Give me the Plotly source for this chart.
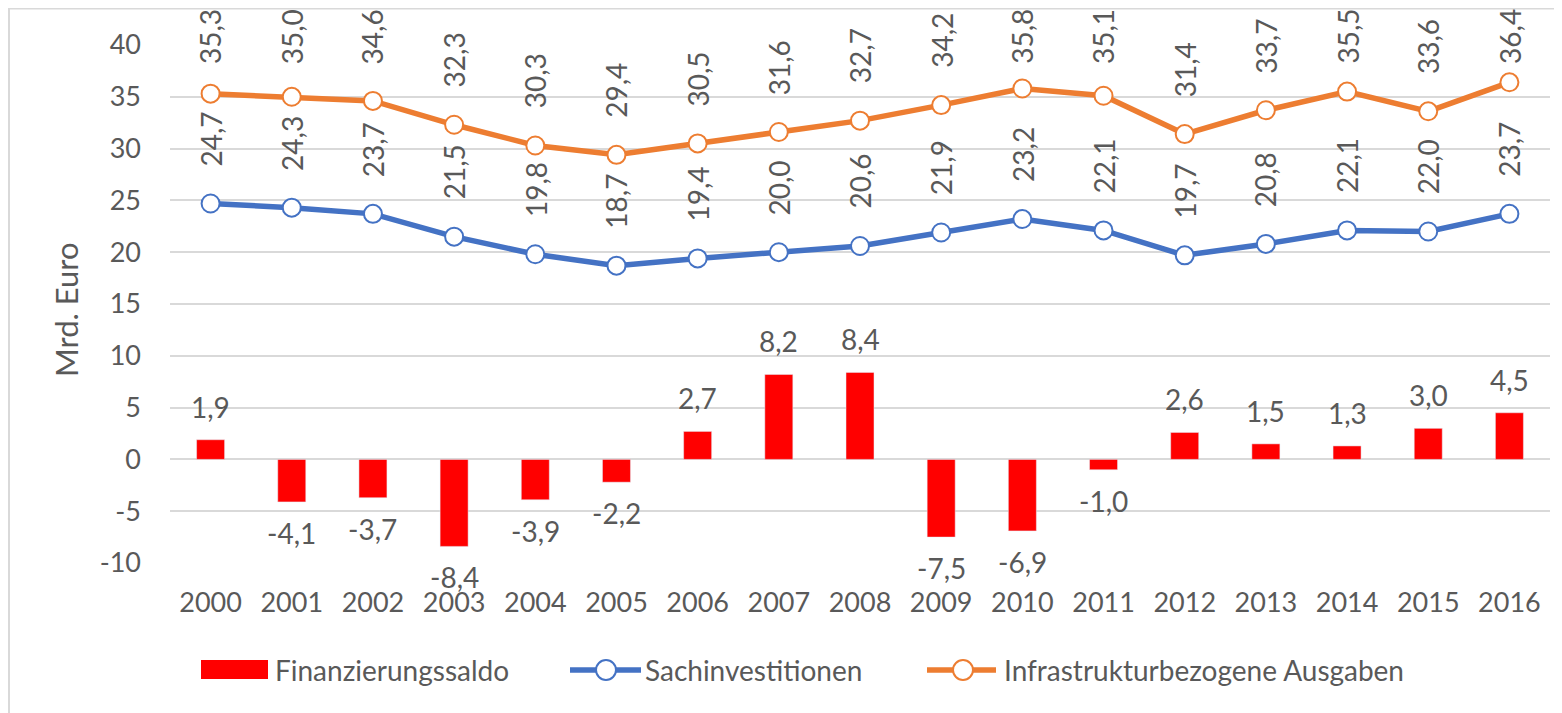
import plotly.graph_objects as go

years = list(range(2000, 2017))
saldo = [1.9, -4.1, -3.7, -8.4, -3.9, -2.2, 2.7, 8.2, 8.4, -7.5, -6.9, -1.0, 2.6, 1.5, 1.3, 3.0, 4.5]
sachinv = [24.7, 24.3, 23.7, 21.5, 19.8, 18.7, 19.4, 20.0, 20.6, 21.9, 23.2, 22.1, 19.7, 20.8, 22.1, 22.0, 23.7]
infra = [35.3, 35.0, 34.6, 32.3, 30.3, 29.4, 30.5, 31.6, 32.7, 34.2, 35.8, 35.1, 31.4, 33.7, 35.5, 33.6, 36.4]
y_ticks = [-10, -5, 0, 5, 10, 15, 20, 25, 30, 35, 40]
y_range = [-10, 40]
names = ["Finanzierungssaldo", "Sachinvestitionen", "Infrastrukturbezogene Ausgaben"]

RED = "#FF0000"
BLUE = "#4472C4"
ORANGE = "#ED7D31"
TXT = "#595959"
FONT = "Lato"
FS = 27
FS_LBL = 28
FS_LEG = 28

OFF = 8  # page body margin
W, H = 1562 - OFF, 713 - OFF
# plot area in page pixels
L, R, T, B = 170, 1550, 45, 563
PX_PER_UNIT = (B - T) / (y_range[1] - y_range[0])

LBL_GAP = 35      # shift of rotated labels above the marker
LBL_LEN = 50      # approx. length of rotated label text (px)
LBL_TOP = 16      # labels may not reach higher than this page y


def px(x):
    return (x - L) / (R - L)


def py(y):
    return (B - y) / (B - T)


def fmt(v):
    return f"{v:.1f}".replace(".", ",")


def rot_shift(v):
    # keep the rotated label inside the chart area (like Excel does)
    above_top = (y_range[1] - v) * PX_PER_UNIT + (T - LBL_TOP)
    return min(LBL_GAP, above_top - LBL_LEN)


fig = go.Figure()
fig.add_trace(go.Bar(x=years, y=saldo, name=names[0], marker_color=RED,
                     width=0.345, showlegend=False))
for vals, col, nm in [(sachinv, BLUE, names[1]), (infra, ORANGE, names[2])]:
    fig.add_trace(go.Scatter(x=years, y=vals, name=nm, mode="lines+markers",
                             line=dict(color=col, width=5.5),
                             marker=dict(symbol="circle", size=18, color="white",
                                         line=dict(color=col, width=2)),
                             showlegend=False))

ann = []
for yr, v in zip(years, saldo):
    ann.append(dict(x=yr, y=v, text=fmt(v), showarrow=False,
                    yanchor="bottom" if v >= 0 else "top",
                    yshift=14 if v >= 0 else -12,
                    font=dict(family=FONT, size=FS_LBL, color=TXT)))
for vals in (sachinv, infra):
    for yr, v in zip(years, vals):
        ann.append(dict(x=yr, y=v, text=fmt(v), showarrow=False, textangle=-90,
                        xanchor="center", yanchor="bottom", yshift=rot_shift(v),
                        font=dict(family=FONT, size=FS_LBL, color=TXT)))

# legend (custom)
LY = 670
for xl, nm in [(273, names[0]), (643, names[1]), (1002, names[2])]:
    ann.append(dict(x=px(xl), y=py(LY), xref="paper", yref="paper", text=nm,
                    xanchor="left", yanchor="middle", showarrow=False,
                    font=dict(family=FONT, size=FS_LEG, color=TXT)))
ann.append(dict(x=px(66), y=py(310), xref="paper", yref="paper", text="Mrd. Euro",
                textangle=-90, showarrow=False, xanchor="center", yanchor="middle",
                font=dict(family=FONT, size=31, color=TXT)))

shapes = [
    dict(type="rect", xref="paper", yref="paper", x0=px(9), x1=px(1600),
         y0=py(8.5), y1=py(760), line=dict(color="#D9D9D9", width=2), fillcolor="rgba(0,0,0,0)",
         layer="below"),
    dict(type="rect", xref="paper", yref="paper", x0=px(201), x1=px(268),
         y0=py(660), y1=py(679), line=dict(width=0), fillcolor=RED),
]
for (x0, x1, xc, col) in [(570, 641, 606, BLUE), (927, 996, 963, ORANGE)]:
    shapes.append(dict(type="line", xref="paper", yref="paper", x0=px(x0), x1=px(x1),
                       y0=py(LY), y1=py(LY), line=dict(color=col, width=5.5)))
    shapes.append(dict(type="circle", xref="paper", yref="paper", x0=px(xc - 10), x1=px(xc + 10),
                       y0=py(LY - 10), y1=py(LY + 10), line=dict(color=col, width=2),
                       fillcolor="white"))

fig.update_layout(
    width=W, height=H,
    margin=dict(l=L - OFF, r=(W + OFF) - R, t=T - OFF, b=(H + OFF) - B, pad=0),
    paper_bgcolor="white", plot_bgcolor="white",
    font=dict(family=FONT, size=FS, color=TXT),
    annotations=ann, shapes=shapes,
    xaxis=dict(range=[1999.5, 2016.5], tickvals=years, ticktext=[str(y) for y in years],
               showgrid=False, showline=False, zeroline=False,
               ticks="", ticklabelstandoff=21, tickfont=dict(family=FONT, size=FS, color=TXT)),
    yaxis=dict(range=y_range, tickvals=y_ticks, ticktext=[str(t) for t in y_ticks],
               showgrid=True, gridcolor="#D9D9D9",
               gridwidth=2, zeroline=True, zerolinecolor="#D9D9D9", zerolinewidth=2,
               showline=False, ticks="", ticklabelstandoff=28,
               tickfont=dict(family=FONT, size=FS, color=TXT)),
    showlegend=False,
)

fig.write_html("out.html")
